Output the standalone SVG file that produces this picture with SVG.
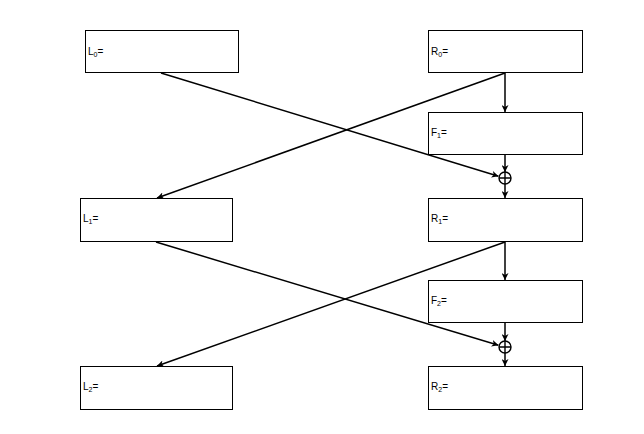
<svg xmlns="http://www.w3.org/2000/svg" width="644" height="434" viewBox="0 0 644 434">
<style>
.box{fill:#fff;stroke:#000;stroke-width:1}
.lbl{font-family:"Liberation Sans",Arial,sans-serif;font-size:10px;fill:#000}
.sub{font-size:7px}
.c{fill:none;stroke:#000;stroke-width:1.5}
.x{fill:#fff;stroke:#000;stroke-width:1.4}
</style>
<defs>
<marker id="ah" viewBox="0 0 10 10" refX="10" refY="5" markerWidth="7" markerHeight="7" markerUnits="userSpaceOnUse" orient="auto">
<path d="M0,0 L10,5 L0,10 L3,5 Z" fill="#000"/>
</marker>
</defs>
<rect width="644" height="434" fill="#fff"/>
<g id="L0"><rect class="box" x="85.5" y="30.5" width="153" height="42"/><text class="lbl" x="88" y="55">L<tspan class="sub" dy="2">0</tspan><tspan dy="-2">=</tspan></text></g>
<g id="R0"><rect class="box" x="428.5" y="30.5" width="154" height="42"/><text class="lbl" x="431" y="55">R<tspan class="sub" dy="2">0</tspan><tspan dy="-2">=</tspan></text></g>
<g id="F1"><rect class="box" x="428.5" y="112.5" width="154" height="42"/><text class="lbl" x="431" y="136">F<tspan class="sub" dy="2">1</tspan><tspan dy="-2">=</tspan></text></g>
<g id="XOR1"><circle class="x" cx="505" cy="178" r="6"/><path d="M499,178 H511 M505,172 V184" stroke="#000" stroke-width="1.4"/></g>
<g id="L1"><rect class="box" x="80.5" y="198.5" width="152" height="43"/><text class="lbl" x="83" y="222">L<tspan class="sub" dy="2">1</tspan><tspan dy="-2">=</tspan></text></g>
<g id="R1"><rect class="box" x="428.5" y="198.5" width="154" height="43"/><text class="lbl" x="431" y="222">R<tspan class="sub" dy="2">1</tspan><tspan dy="-2">=</tspan></text></g>
<g id="F2"><rect class="box" x="428.5" y="280.5" width="154" height="42"/><text class="lbl" x="431" y="304">F<tspan class="sub" dy="2">2</tspan><tspan dy="-2">=</tspan></text></g>
<g id="XOR2"><circle class="x" cx="505" cy="347" r="6"/><path d="M499,347 H511 M505,341 V353" stroke="#000" stroke-width="1.4"/></g>
<g id="L2"><rect class="box" x="80.5" y="366.5" width="152" height="43"/><text class="lbl" x="83" y="390">L<tspan class="sub" dy="2">2</tspan><tspan dy="-2">=</tspan></text></g>
<g id="R2"><rect class="box" x="428.5" y="366.5" width="154" height="43"/><text class="lbl" x="431" y="390">R<tspan class="sub" dy="2">2</tspan><tspan dy="-2">=</tspan></text></g>
<g id="connectors">
<path class="c" d="M161,73 L498.5,176.3" marker-end="url(#ah)"/>
<path class="c" d="M505,73 L157,198" marker-end="url(#ah)"/>
<path class="c" d="M505,73 L505,112" marker-end="url(#ah)"/>
<path class="c" d="M505,155 L505,172" marker-end="url(#ah)"/>
<path class="c" d="M505,184 L505,198" marker-end="url(#ah)"/>
<path class="c" d="M156,242 L498.5,345.3" marker-end="url(#ah)"/>
<path class="c" d="M505,242 L157,366" marker-end="url(#ah)"/>
<path class="c" d="M505,242 L505,280" marker-end="url(#ah)"/>
<path class="c" d="M505,323 L505,341" marker-end="url(#ah)"/>
<path class="c" d="M505,353 L505,366" marker-end="url(#ah)"/>
</g>
</svg>
